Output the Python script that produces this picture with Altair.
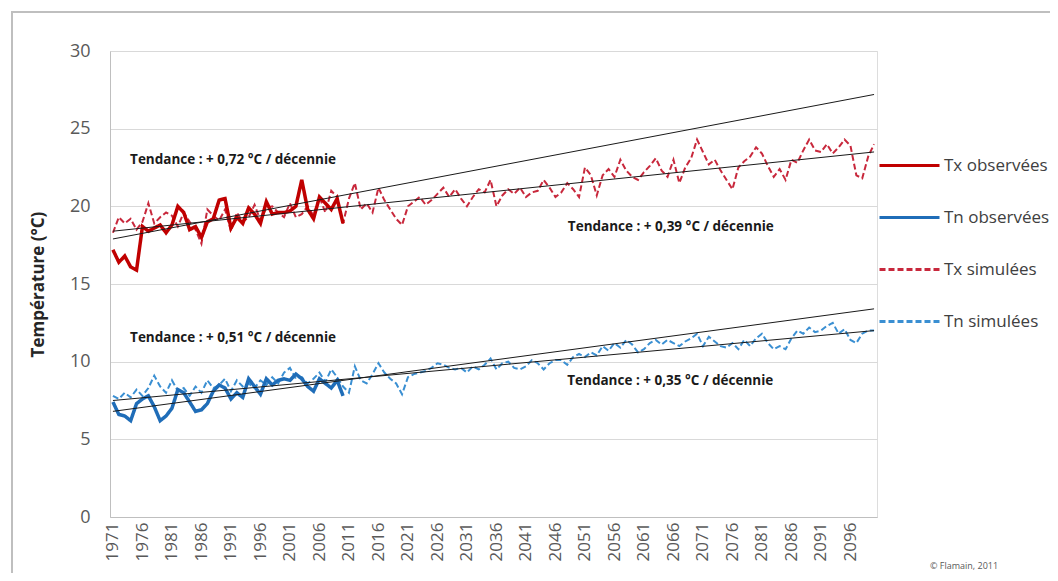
import altair as alt
import pandas as pd

# ---------------- data ----------------
years_obs = list(range(1971, 2011))
years_sim = list(range(1971, 2101))

tx_obs = [17.2, 16.4, 16.8, 16.1, 15.9, 18.7, 18.4, 18.6, 18.8, 18.3,
          18.8, 20.0, 19.6, 18.5, 18.7, 18.0, 19.0, 19.2, 20.4, 20.5,
          18.6, 19.3, 18.9, 19.9, 19.5, 18.9, 20.3, 19.5, 19.6, 19.6,
          19.7, 20.0, 21.7, 19.8, 19.2, 20.6, 20.2, 19.8, 20.5, 18.9]

tn_obs = [7.4, 6.6, 6.5, 6.2, 7.3, 7.6, 7.8, 7.1, 6.2, 6.5,
          7.0, 8.2, 8.0, 7.4, 6.8, 6.9, 7.3, 8.1, 8.5, 8.3,
          7.6, 8.0, 7.7, 8.9, 8.4, 7.9, 8.9, 8.5, 8.8, 8.9,
          8.8, 9.2, 8.9, 8.4, 8.1, 8.9, 8.6, 8.3, 8.8, 7.8]

tx_sim = [18.3, 19.3, 18.9, 19.2, 18.5, 19.0, 20.2, 18.9, 19.3, 19.6,
          19.4, 18.7, 19.6, 19.0, 18.5, 17.6, 19.8, 19.4, 19.1, 19.8,
          18.4, 19.6, 19.0, 19.3, 20.1, 19.1, 19.9, 20.0, 19.6, 19.3,
          20.2, 19.3, 19.5, 20.0, 19.4, 20.6, 19.6, 21.0, 20.6, 18.9,
          20.5, 21.5, 19.8, 20.2, 19.6, 21.2, 20.4, 19.8, 19.2, 18.8,
          20.0, 20.3, 20.6, 20.1, 20.4, 20.8, 21.2, 20.6, 21.1, 20.5,
          20.0, 20.6, 21.1, 20.9, 21.7, 20.0, 20.7, 21.1, 20.8, 21.2,
          20.6, 20.9, 21.0, 21.7, 21.2, 20.6, 20.9, 21.5, 21.1, 20.6,
          22.5, 22.0, 20.7, 22.0, 22.4, 21.9, 23.0, 22.3, 21.9, 21.7,
          22.2, 22.6, 23.1, 22.3, 21.9, 23.0, 21.5, 22.5, 23.1, 24.3,
          23.5, 22.7, 23.0, 22.3, 21.7, 21.1, 22.5, 22.9, 23.2, 23.8,
          23.4, 22.6, 21.9, 22.4, 21.7, 23.0, 22.8, 23.6, 24.3, 23.6,
          23.5, 24.0, 23.4, 23.8, 24.3, 23.9, 22.0, 21.8, 23.2, 24.0]

tn_sim = [7.8, 7.6, 8.0, 7.7, 8.2, 7.8, 8.3, 9.1, 8.4, 8.0,
          8.8, 8.1, 8.3, 7.8, 8.4, 8.0, 8.8, 8.3, 8.5, 8.9,
          8.1, 8.8, 8.4, 8.6, 8.3, 8.8, 8.5, 9.0, 8.6, 9.3,
          9.6, 8.9, 9.0, 8.6, 8.9, 9.3, 8.7, 9.5, 9.0, 8.4,
          8.0, 9.7, 8.8, 8.6, 9.2, 9.9, 9.3, 8.9, 8.6, 7.9,
          9.0, 9.2, 9.3, 9.4, 9.6, 9.9, 9.8, 9.6, 9.5, 9.6,
          9.3, 9.7, 9.5, 9.8, 10.2, 9.5, 9.9, 10.0, 9.6, 9.5,
          9.7, 10.1, 9.9, 9.5, 9.9, 10.1, 10.1, 9.8, 10.3, 10.5,
          10.3, 10.6, 10.4, 11.0, 10.7, 11.2, 10.9, 11.4, 11.1, 10.6,
          10.8, 11.2, 11.4, 11.1, 11.4, 11.2, 11.0, 11.3, 11.5, 11.8,
          11.0, 11.6, 11.3, 11.0, 10.9, 11.2, 10.8, 11.4, 11.0, 11.5,
          11.8, 11.2, 10.8, 11.0, 10.8, 11.5, 12.0, 11.8, 12.2, 11.9,
          12.0, 12.3, 12.5, 11.8, 12.1, 11.4, 11.2, 11.8, 12.0, 12.0]

series_names = ["Tx observées", "Tn observées", "Tx simulées", "Tn simulées"]
series_colors = ["#c00000", "#1f6db8", "#c8283c", "#3a8fd2"]

# trend lines (start / end values)
trend_x0 = [1971, 1971, 1971, 1971]
trend_x1 = [2100, 2100, 2100, 2100]
trend_y0 = [17.9, 18.4, 6.8, 7.5]
trend_y1 = [27.2, 23.5, 13.4, 12.0]

# annotations
ann_text = ["Tendance : + 0,72 °C / décennie", "Tendance : + 0,39 °C / décennie",
            "Tendance : + 0,51 °C / décennie", "Tendance : + 0,35 °C / décennie"]
ann_x = [1973.9, 2048.1, 1973.9, 2048.0]
ann_y = [23.0, 18.7, 11.5, 8.75]

tick_years = list(range(1971, 2100, 5))
y_ticks = [0, 5, 10, 15, 20, 25, 30]

# ---------------- tables ----------------
obs_df = pd.concat([
    pd.DataFrame({"year": years_obs, "value": tx_obs, "series": "Tx observées"}),
    pd.DataFrame({"year": years_obs, "value": tn_obs, "series": "Tn observées"}),
])
sim_df = pd.concat([
    pd.DataFrame({"year": years_sim, "value": tx_sim, "series": "Tx simulées"}),
    pd.DataFrame({"year": years_sim, "value": tn_sim, "series": "Tn simulées"}),
])
trend_df = pd.DataFrame({"x0": trend_x0, "x1": trend_x1, "y0": trend_y0, "y1": trend_y1})
ann_df = pd.DataFrame({"text": ann_text, "x": ann_x, "y": ann_y})

FONT = "Open Sans"
W, H = 767, 466

xscale = alt.Scale(domain=[1970.5, 2100.5], nice=False, zero=False)
yscale = alt.Scale(domain=[0, 30], nice=False)

xaxis = alt.Axis(values=tick_years, format="d", labelAngle=270, labelFontSize=17,
                 labelColor="#595959", labelFont=FONT, labelPadding=5, ticks=False,
                 grid=False, domainColor="#bfbfbf", title=None, labelOverlap=False)
yaxis = alt.Axis(values=y_ticks, labelFontSize=18, labelColor="#595959", labelFont=FONT,
                 labelPadding=20, ticks=False, grid=True, gridColor="#d9d9d9",
                 domainColor="#bfbfbf", title="Température (°C)", titleFont=FONT,
                 titleFontSize=17, titleFontWeight="bold", titleColor="#262626",
                 titlePadding=22)

color = alt.Color("series:N", scale=alt.Scale(domain=series_names, range=series_colors),
                  sort=series_names,
                  legend=alt.Legend(orient="none", legendX=768, legendY=83, title=None,
                                    symbolType="stroke", symbolSize=3600,
                                    symbolStrokeWidth=3, labelFont=FONT,
                                    labelFontSize=17, labelColor="#404040",
                                    labelOffset=3, labelLimit=0, rowPadding=12))
dash = alt.StrokeDash("series:N",
                      scale=alt.Scale(domain=series_names,
                                      range=[[1, 0], [1, 0], [6, 3], [6, 3]]),
                      sort=series_names, legend=None)

base_x = alt.X("year:Q", scale=xscale, axis=xaxis)
base_y = alt.Y("value:Q", scale=yscale, axis=yaxis)

sim_lines = alt.Chart(sim_df).mark_line(strokeWidth=2).encode(
    x=base_x, y=base_y, color=color, strokeDash=dash)
obs_lines = alt.Chart(obs_df).mark_line(strokeWidth=3.5).encode(
    x=base_x, y=base_y, color=color, strokeDash=dash)

trends = alt.Chart(trend_df).mark_rule(color="#1a1a1a", strokeWidth=1).encode(
    x=alt.X("x0:Q", scale=xscale, axis=xaxis), x2="x1:Q",
    y=alt.Y("y0:Q", scale=yscale, axis=yaxis), y2="y1:Q")

ann = alt.Chart(ann_df).mark_text(align="left", baseline="middle", font=FONT,
                                  fontSize=13.5, fontWeight="bold", color="#1a1a1a").encode(
    x=alt.X("x:Q", scale=xscale, axis=xaxis), y=alt.Y("y:Q", scale=yscale, axis=yaxis),
    text="text:N")

frame = alt.Chart(pd.DataFrame({"a": [0]})).mark_rect(
    fill=None, stroke="#bfbfbf", strokeWidth=2).encode(
    x=alt.value(-98), x2=alt.value(1100), y=alt.value(-39), y2=alt.value(700))

credit = alt.Chart(pd.DataFrame({"t": ["© Flamain, 2011"]})).mark_text(
    align="left", baseline="middle", font=FONT, fontSize=9, color="#595959").encode(
    x=alt.value(820), y=alt.value(515), text="t:N")

chart = alt.layer(frame, sim_lines, obs_lines, trends, ann, credit).properties(
    width=W, height=H,
    autosize=alt.AutoSizeParams(type="none"),
    padding={"left": 102, "top": 43, "right": 173, "bottom": 56},
).configure_view(strokeWidth=0).configure(background="white").configure_axisX(
    labelOverlap=False)

chart.save("out.html", embed_options={"renderer": "svg", "actions": False})
